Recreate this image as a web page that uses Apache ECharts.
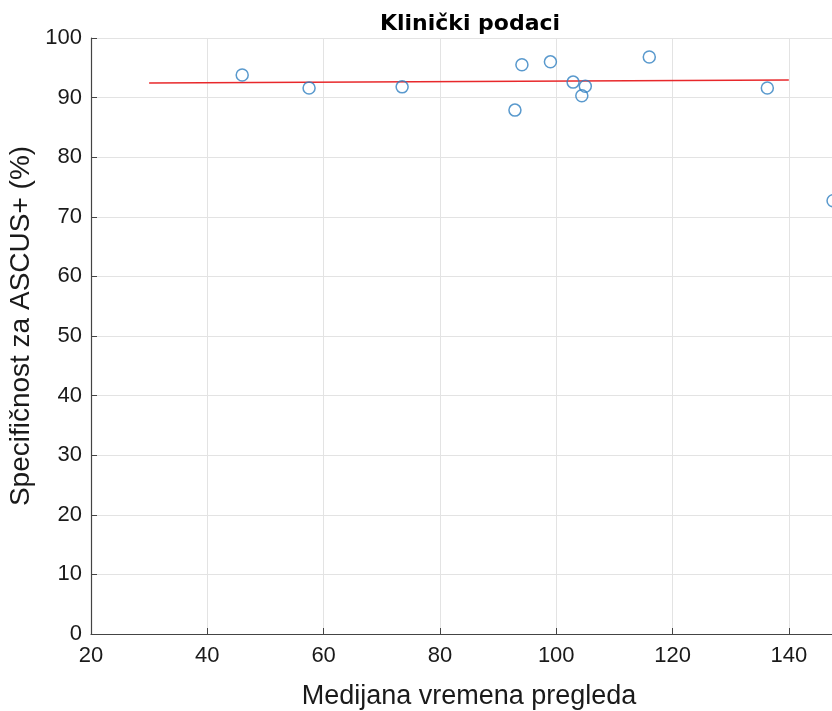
<!DOCTYPE html>
<html>
<head>
<meta charset="utf-8">
<script src="https://cdn.jsdelivr.net/npm/echarts@6/dist/echarts.min.js"></script>
<style>
  html, body { margin: 0; padding: 0; background: #fff; }
  #chart { width: 832px; height: 711px; }
</style>
</head>
<body>
<div id="chart"></div>
<script>
// median review time vs. specificity (clinical data)
const reviewTime = [46.0, 57.5, 73.5, 92.9, 94.1, 99.0, 102.9, 104.4, 105.0, 116.0, 136.3, 147.6]
const specificity = [93.8, 91.6, 91.8, 87.9, 95.5, 96.0, 92.6, 90.3, 91.9, 96.8, 91.6, 72.7]
const fitX = [30, 140]
const fitY = [92.45, 92.95]
const xTicks = [20, 40, 60, 80, 100, 120, 140]
const yTicks = [0, 10, 20, 30, 40, 50, 60, 70, 80, 90, 100]

const points = reviewTime.map((x, i) => [x, specificity[i]])
const fitLine = fitX.map((x, i) => [x, fitY[i]])

const chart = echarts.init(document.getElementById('chart'))

const font = 'Liberation Sans, Arial, sans-serif'

chart.setOption({
  animation: false,
  backgroundColor: '#ffffff',
  title: {
    text: 'Klinički podaci',
    left: 465,
    textAlign: 'center',
    top: 8,
    textStyle: {
      fontFamily: 'DejaVu Sans, sans-serif',
      fontWeight: 'bold',
      fontSize: 22,
      color: '#000'
    }
  },
  grid: {
    left: 91,
    top: 38,
    width: 756,
    bottom: 77,
    outerBoundsMode: 'none',
    containLabel: false
  },
  xAxis: {
    type: 'value',
    min: 20,
    max: 150,
    interval: 20,
    name: 'Medijana vremena pregleda',
    nameLocation: 'middle',
    nameGap: 49,
    nameTextStyle: { fontFamily: font, fontSize: 27, color: '#1a1a1a' },
    axisLine: { lineStyle: { color: '#444', width: 1.2 } },
    axisTick: { inside: true, length: 6, lineStyle: { color: '#444' } },
    axisLabel: {
      fontFamily: font,
      fontSize: 22,
      color: '#1a1a1a',
      margin: 11,
      showMaxLabel: false,
      formatter: (v) => (xTicks.includes(v) ? String(v) : '')
    },
    splitLine: { show: true, lineStyle: { color: '#e3e3e3', width: 1 } }
  },
  yAxis: {
    type: 'value',
    min: 0,
    max: 100,
    interval: 10,
    name: 'Specifičnost za ASCUS+ (%)',
    nameLocation: 'middle',
    nameGap: 56,
    nameMoveOverlap: false,
    nameRotate: 90,
    nameTextStyle: { fontFamily: font, fontSize: 28, color: '#1a1a1a', padding: [0, 0, 0, 20] },
    axisLine: { show: true, lineStyle: { color: '#444', width: 1.2 } },
    axisTick: { show: true, inside: true, length: 6, lineStyle: { color: '#444' } },
    axisLabel: {
      fontFamily: font,
      fontSize: 22,
      color: '#1a1a1a',
      margin: 9,
      formatter: (v) => (yTicks.includes(v) ? String(v) : '')
    },
    splitLine: { show: true, lineStyle: { color: '#e3e3e3', width: 1 } }
  },
  series: [
    {
      type: 'line',
      data: fitLine,
      showSymbol: false,
      symbol: 'none',
      lineStyle: { color: '#e8282b', width: 1.5 },
      z: 2
    },
    {
      type: 'scatter',
      data: points,
      symbol: 'circle',
      symbolSize: 12,
      itemStyle: {
        color: 'rgba(0,0,0,0)',
        borderColor: '#2f7fc1',
        borderWidth: 1.5
      },
      z: 3
    }
  ]
})
</script>
</body>
</html>
